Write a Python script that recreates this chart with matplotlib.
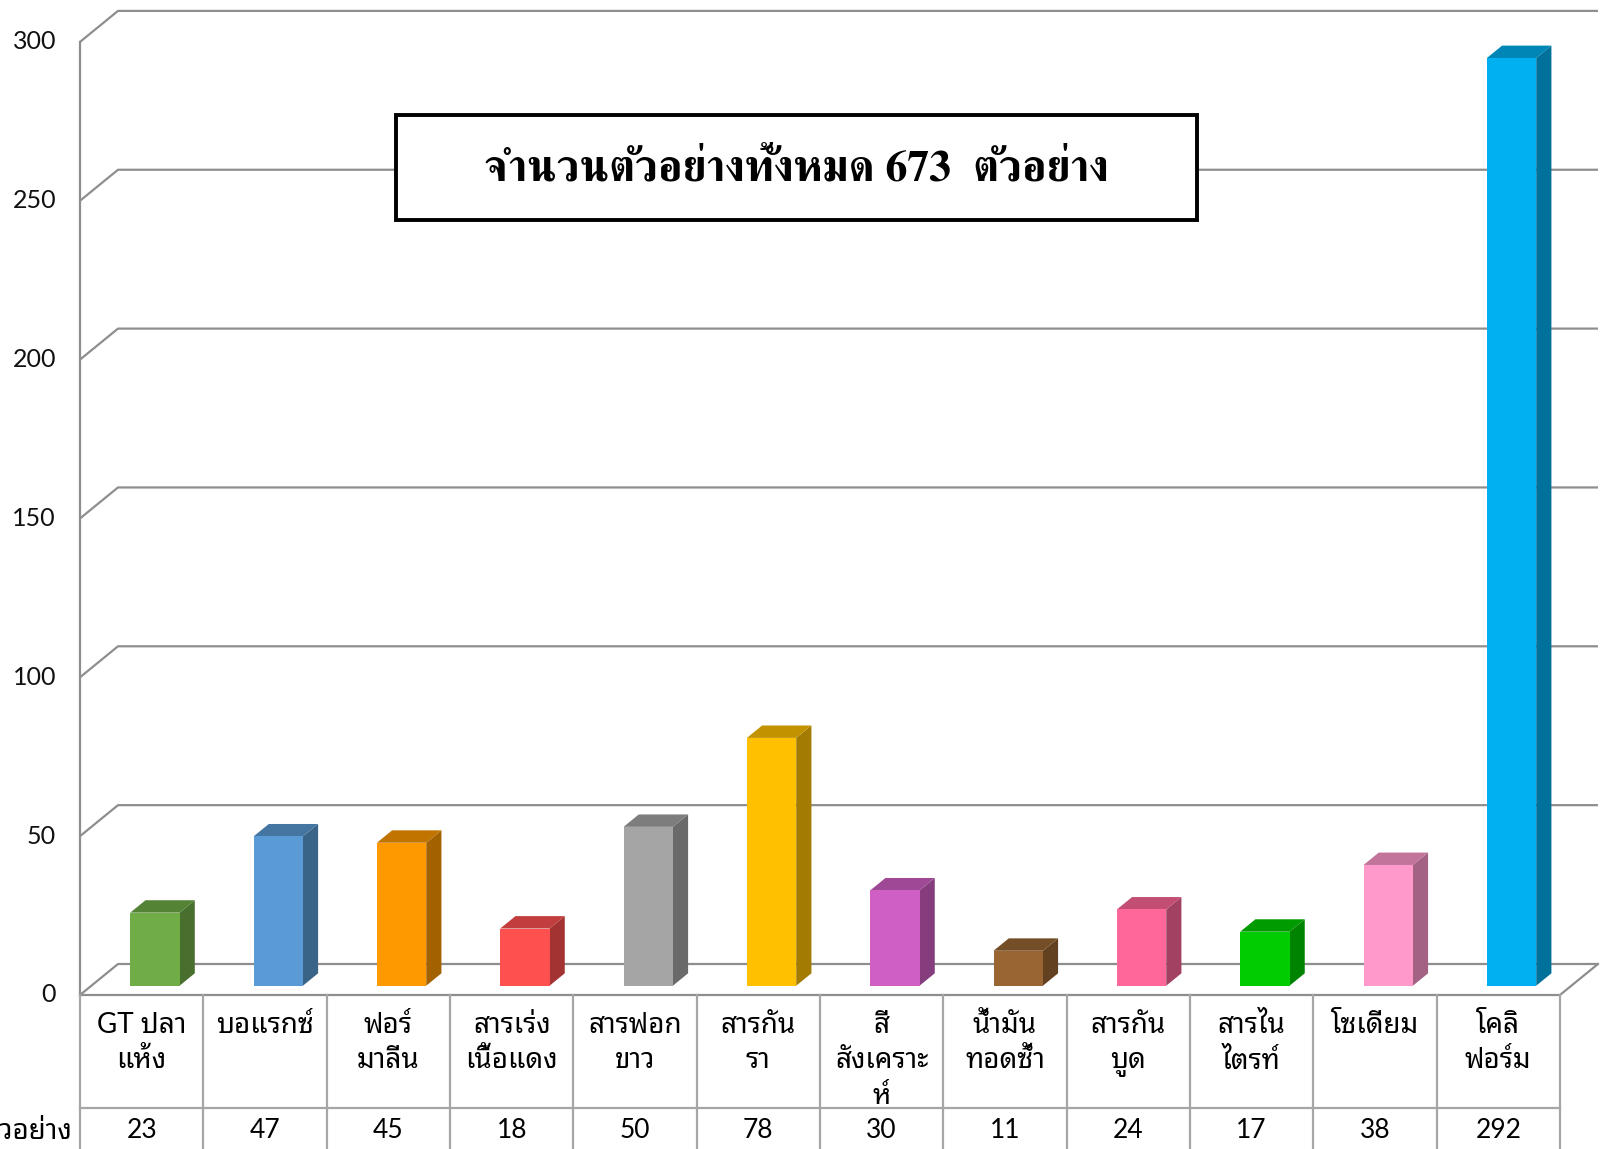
import matplotlib
matplotlib.use('Agg')
import matplotlib.pyplot as plt
from matplotlib.patches import Rectangle
import matplotlib.colors as mcolors
import numpy as np

# ---- data ----
categories = ["GT ปลา\nแห้ง", "บอแรกซ์", "ฟอร์\nมาลีน", "สารเร่ง\nเนื้อแดง", "สารฟอก\nขาว",
              "สารกัน\nรา", "สี\nสังเคราะ\nห์", "น้ำมัน\nทอดซ้ำ", "สารกัน\nบูด", "สารไน\nไตรท์",
              "โซเดียม", "โคลิ\nฟอร์ม"]
values = [23, 47, 45, 18, 50, 78, 30, 11, 24, 17, 38, 292]
yticks = [0, 50, 100, 150, 200, 250, 300]
row_header = "จำนวนตัวอย่าง"
title_text = "จำนวนตัวอย่างทั้งหมด 673  ตัวอย่าง"

# ---- styles ----
colors = ["#70AD47", "#5B9BD5", "#FF9900", "#FF5050", "#A5A5A5", "#FFC000",
          "#D05FC5", "#996633", "#FF6699", "#00CC00", "#FF99CC", "#00B0F0"]
thai = ['Lato', 'Noto Sans Thai Looped', 'DejaVu Sans']
title_font = ['FreeSerif', 'DejaVu Serif']
grid_c = '#8e8e8e'
table_c = '#a6a6a6'

W, H = 1604, 1149
fig = plt.figure(figsize=(W / 100, H / 100), dpi=100)
ax = fig.add_axes([0, 0, 1, 1])
# pixel layout -> data limits
col_px = 123.33
x0_px = 80
zero_px = 995
unit_px = 3.177
ax.set_xlim((0 - x0_px) / col_px, (W - x0_px) / col_px)
ax.set_ylim((zero_px - H) / unit_px, zero_px / unit_px)
ax.axis('off')

n = len(values)
DX = 38 / col_px      # depth offset in x (data units)
DY = 31 / unit_px     # depth offset in y (data units)


def P(x, y, d):
    return x + d * DX, y + d * DY


# side wall / back wall gridlines
for v in yticks:
    xa, ya = P(0, v, 0)
    xb, yb = P(0, v, 1)
    xc, yc = P(n, v, 1)
    ax.plot([xa, xb, xc], [ya, yb, yc], color=grid_c, lw=1.6, solid_capstyle='butt', zorder=1)
# floor front and right edge
xa, ya = P(0, 0, 0)
xb, yb = P(n, 0, 0)
xc, yc = P(n, 0, 1)
ax.plot([xa, xb, xc], [ya, yb, yc], color=grid_c, lw=1.6, zorder=1)
# vertical axis (front)
ax.plot([0, 0], [0, yticks[-1]], color=grid_c, lw=1.6, zorder=1)

# bars
d0, d1 = 0.30, 0.70
hw = 0.20
shift = 0.015
for i, (v, c) in enumerate(zip(values, colors)):
    base = np.array(mcolors.to_rgb(c))
    top_c = base * 0.76
    side_c = base * 0.64
    xl = i + 0.5 - hw + shift
    xr = i + 0.5 + hw + shift
    pts = [P(xr, 0, d0), P(xr, v, d0), P(xr, v, d1), P(xr, 0, d1)]
    ax.fill(*zip(*pts), color=side_c, lw=0, zorder=3)
    pts = [P(xl, v, d0), P(xr, v, d0), P(xr, v, d1), P(xl, v, d1)]
    ax.fill(*zip(*pts), color=top_c, lw=0, zorder=3)
    pts = [P(xl, 0, d0), P(xr, 0, d0), P(xr, v, d0), P(xl, v, d0)]
    ax.fill(*zip(*pts), color=c, lw=0, zorder=4)

# y tick labels
for v in yticks:
    ax.text((56 - x0_px) / col_px, v, str(v), ha='right', va='center',
            fontsize=18, family=thai, color='#111111')

# data table
ybot = (zero_px - H) / unit_px
ysep = (zero_px - 1108) / unit_px
for k in range(n + 1):
    ax.plot([k, k], [0, ybot], color=table_c, lw=1.6, zorder=1)
ax.plot([0, n], [ysep, ysep], color=table_c, lw=1.6, zorder=1)

for i, lab in enumerate(categories):
    ax.text(i + 0.5, (zero_px - 1012) / unit_px, lab, ha='center', va='top',
            multialignment='center', fontsize=20, family=thai, linespacing=1.45)
for i, v in enumerate(values):
    ax.text(i + 0.5, (zero_px - 1131) / unit_px, str(v), ha='center', va='center',
            fontsize=19, family=thai)
ax.text((72 - x0_px) / col_px, (zero_px - 1131) / unit_px, row_header, ha='right', va='center',
        fontsize=20, family=thai)

# title box
bx0, bx1 = (396 - x0_px) / col_px, (1197 - x0_px) / col_px
by0, by1 = (zero_px - 220) / unit_px, (zero_px - 115) / unit_px
ax.add_patch(Rectangle((bx0, by0), bx1 - bx0, by1 - by0, facecolor='white',
                       edgecolor='black', lw=2.8, zorder=6))
ax.text((bx0 + bx1) / 2, (by0 + by1) / 2 - 0.8, title_text, ha='center', va='center',
        fontsize=31.5, fontweight='bold', family=title_font, zorder=7)

fig.savefig('out.png', dpi=100)
